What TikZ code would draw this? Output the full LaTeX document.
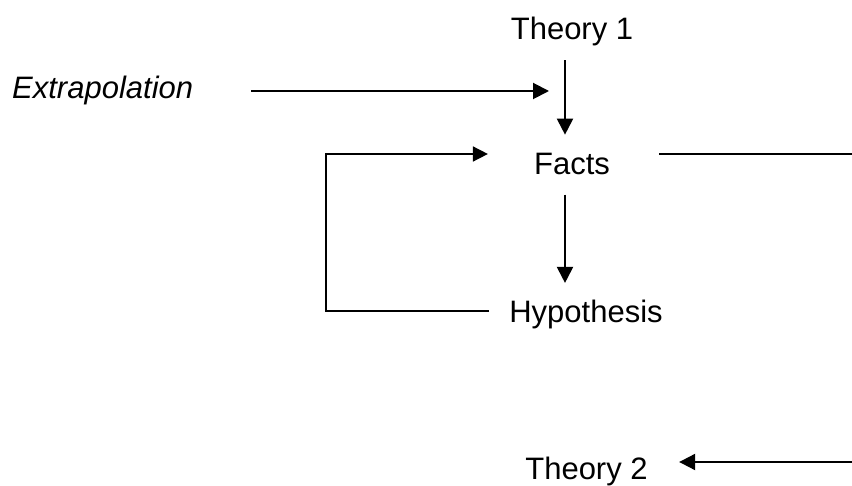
\documentclass[tikz,border=0pt]{standalone}
\usepackage{fontspec}
\setmainfont{Liberation Sans}
\usetikzlibrary{arrows.meta}
\begin{document}
\begin{tikzpicture}[x=1pt,y=1pt,
  lbl/.style={inner sep=0pt, font=\fontsize{31}{36}\selectfont},
  thick arr/.style={line width=2pt, -{Triangle[length=16pt,width=16pt]}},
  thin arr/.style={line width=1.6pt, -{Triangle[length=15pt,width=15pt]}},
  plain/.style={line width=1.8pt}]
\useasboundingbox (0,0) rectangle (852,-486);
\node[lbl, anchor=base] (t1) at (572,-40) {Theory 1};
\node[lbl, anchor=base west, font=\fontsize{31}{36}\selectfont\itshape] (extra) at (12,-99) {Extrapolation};
\node[lbl, anchor=base] (facts) at (572,-175) {Facts};
\node[lbl, anchor=base] (hyp) at (586,-323) {Hypothesis};
\node[lbl, anchor=base] (t2) at (586.5,-479) {Theory 2};
\coordinate (ex) at (549,-91);
\coordinate (fb) at (326,-154);
\coordinate (r1) at (852,-154);
\coordinate (r2) at (852,-462);
% Theory 1 -> Facts
\draw[thick arr, shorten <=13.5pt, shorten >=18.8pt] ([xshift=-7pt]t1.south) -- ([xshift=-7pt]facts.north);
% Extrapolation -> Theory 1 / Facts line
\draw[thick arr, shorten <=58pt] (extra.east |- ex) -- (ex);
% Facts -> Hypothesis
\draw[thick arr, shorten <=19pt, shorten >=17.4pt] ([xshift=-7pt]facts.south) -- ([xshift=-21pt]hyp.north);
% Feedback Hypothesis -> Facts
\draw[thin arr, shorten <=20pt, shorten >=46pt] ([yshift=4pt]hyp.west) -| (fb) -- (fb -| facts.west);
% Facts -> right edge
\draw[plain, shorten <=49pt] (facts.east |- r1) -- (r1);
% right edge -> Theory 2
\draw[thick arr, shorten >=31.3pt] (r2) -- (t2.east |- r2);
\end{tikzpicture}
\end{document}
